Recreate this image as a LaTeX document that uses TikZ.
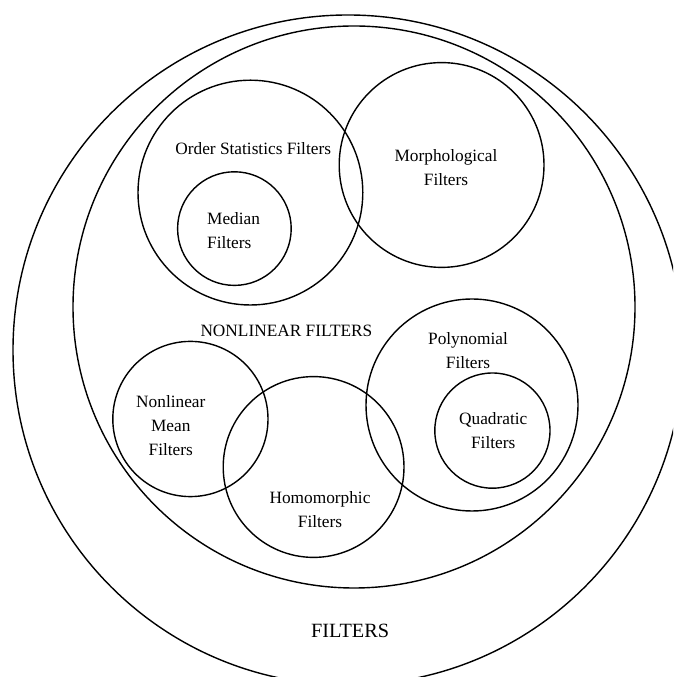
\documentclass[tikz,border=0pt]{standalone}
\usepackage{fontspec}
\setmainfont{Liberation Serif}
\usetikzlibrary{positioning}

\begin{document}
\begin{tikzpicture}[every node/.style={font=\fontsize{12.3}{17.1}\selectfont, align=center},
    setline/.style={black, line width=1pt}]
        \useasboundingbox (0,0) rectangle (16.825,16.925);
        \clip (0,0) rectangle (16.825,16.925);

        % Outer sets
        \draw[setline] (8.70,8.175) circle (8.375);
        \draw[setline] (8.85,9.25) circle (7.025);
        \node (filters) at (8.75,1.15) {\fontsize{14.4}{17}\selectfont FILTERS};
        \node (nonlin) at (7.16,8.65) {NONLINEAR FILTERS};

        % Order statistics and morphological
        \draw[setline] (6.26,12.11) circle (2.81);
        \draw[setline] (5.86,11.21) circle (1.42);
        \draw[setline] (11.04,12.80) circle (2.56);
        \node (order) at (6.33,13.22) {Order Statistics Filters};
        \node[align=left] (median) at (5.84,11.15) {Median\\Filters};
        \node (morph) at (11.15,12.74) {Morphological\\Filters};

        % Lower group
        \draw[setline] (4.76,6.45) circle (1.94);
        \draw[setline] (7.84,5.25) circle (2.26);
        \draw[setline] (11.80,6.80) circle (2.65);
        \draw[setline] (12.31,6.16) circle (1.44);
        \node (nlmean) at (4.27,6.29) {Nonlinear\\Mean\\Filters};
        \node (homo) at (8.00,4.19) {Homomorphic\\Filters};
        \node (poly) at (11.70,8.17) {Polynomial\\Filters};
        \node (quad) at (12.33,6.17) {Quadratic\\Filters};
      \end{tikzpicture}
\end{document}
